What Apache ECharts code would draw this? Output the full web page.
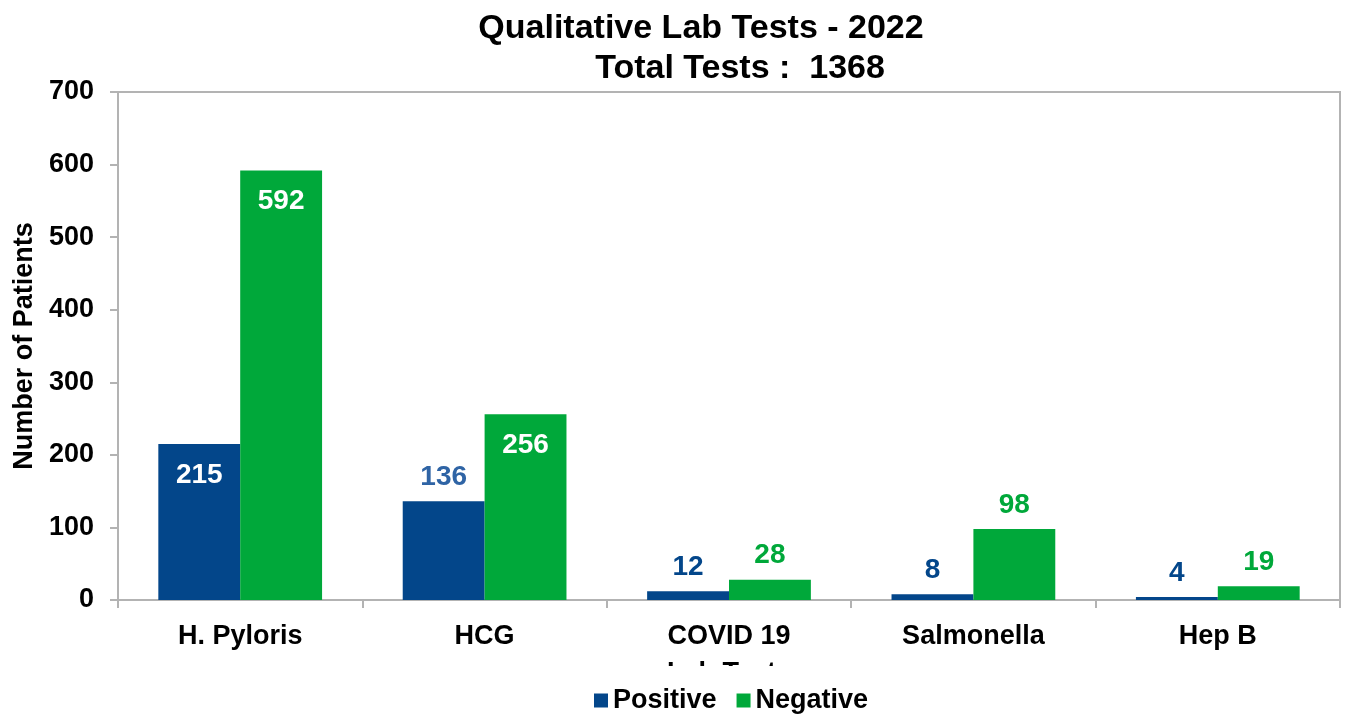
<!DOCTYPE html>
<html>
<head>
<meta charset="utf-8">
<script src="https://cdn.jsdelivr.net/npm/echarts@6/dist/echarts.min.js"></script>
<style>
  html, body { margin: 0; padding: 0; background: #fff; }
  #chart { width: 1348px; height: 714px; }
</style>
</head>
<body>
<div id="chart"></div>
<script>
const categories = ['H. Pyloris', 'HCG', 'COVID 19', 'Salmonella', 'Hep B'];
const positive = [215, 136, 12, 8, 4];
const negative = [592, 256, 28, 98, 19];
const yTicks = [0, 100, 200, 300, 400, 500, 600, 700];

const font = '"Liberation Sans", Arial, sans-serif';
const blue = '#03468a';
const green = '#00a83a';
const axisGrey = '#b3b3b3';

// big bars get their value inside the top, white; small ones sit on top
function withLabels(values, outsideColor) {
  return values.map(v => {
    const inside = v > 200;
    return {
      value: v,
      label: {
        position: inside ? 'insideTop' : 'top',
        distance: inside ? 17 : 10,
        color: inside ? '#fff' : (v === 136 ? '#2f64a5' : outsideColor)
      }
    };
  });
}

const chart = echarts.init(document.getElementById('chart'));
chart.setOption({
  animation: false,
  title: [
    {
      text: 'Qualitative Lab Tests - 2022',
      left: 696, top: 7, textAlign: 'center',
      textStyle: { fontFamily: font, fontSize: 34, fontWeight: 'bold', color: '#000' }
    },
    {
      text: 'Total Tests :  1368',
      left: 735, top: 47, textAlign: 'center',
      textStyle: { fontFamily: font, fontSize: 34, fontWeight: 'bold', color: '#000' }
    }
  ],
  legend: {
    data: ['Positive', 'Negative'],
    left: 394, top: 666,
    padding: [21, 200, 10, 200],
    backgroundColor: '#fff',
    z: 10,
    icon: 'rect', itemWidth: 14, itemHeight: 14, itemGap: 20,
    textStyle: { fontFamily: font, fontSize: 27, fontWeight: 'bold', color: '#000' }
  },
  grid: {
    left: 118, right: 8, top: 92, bottom: 114,
    show: true, borderColor: axisGrey, borderWidth: 2
  },
  xAxis: {
    type: 'category',
    data: categories,
    name: 'Lab Tests',
    nameLocation: 'middle',
    nameGap: 60,
    nameTextStyle: { fontFamily: font, fontSize: 27, fontWeight: 'bold', color: '#000' },
    axisLine: { lineStyle: { color: axisGrey, width: 2 } },
    axisTick: { show: true, length: 8, lineStyle: { color: axisGrey, width: 2 } },
    axisLabel: { margin: 23, fontFamily: font, fontSize: 27, fontWeight: 'bold', color: '#000' }
  },
  yAxis: {
    type: 'value',
    min: yTicks[0], max: yTicks[yTicks.length - 1], interval: 100,
    name: 'Number of Patients',
    nameLocation: 'middle',
    nameGap: 71,
    nameTextStyle: { fontFamily: font, fontSize: 27, fontWeight: 'bold', color: '#000' },
    axisLine: { show: true, lineStyle: { color: axisGrey, width: 2 } },
    axisTick: { show: true, length: 8, lineStyle: { color: axisGrey, width: 2 } },
    axisLabel: { margin: 24, fontFamily: font, fontSize: 27, fontWeight: 'bold', color: '#000' },
    splitLine: { show: false }
  },
  series: [
    {
      name: 'Positive', type: 'bar',
      data: withLabels(positive, blue),
      barGap: '0%', barCategoryGap: '33%',
      itemStyle: { color: blue },
      label: { show: true, fontFamily: font, fontSize: 28, fontWeight: 'bold' }
    },
    {
      name: 'Negative', type: 'bar',
      data: withLabels(negative, green),
      itemStyle: { color: green },
      label: { show: true, fontFamily: font, fontSize: 28, fontWeight: 'bold' }
    }
  ]
});
</script>
</body>
</html>
